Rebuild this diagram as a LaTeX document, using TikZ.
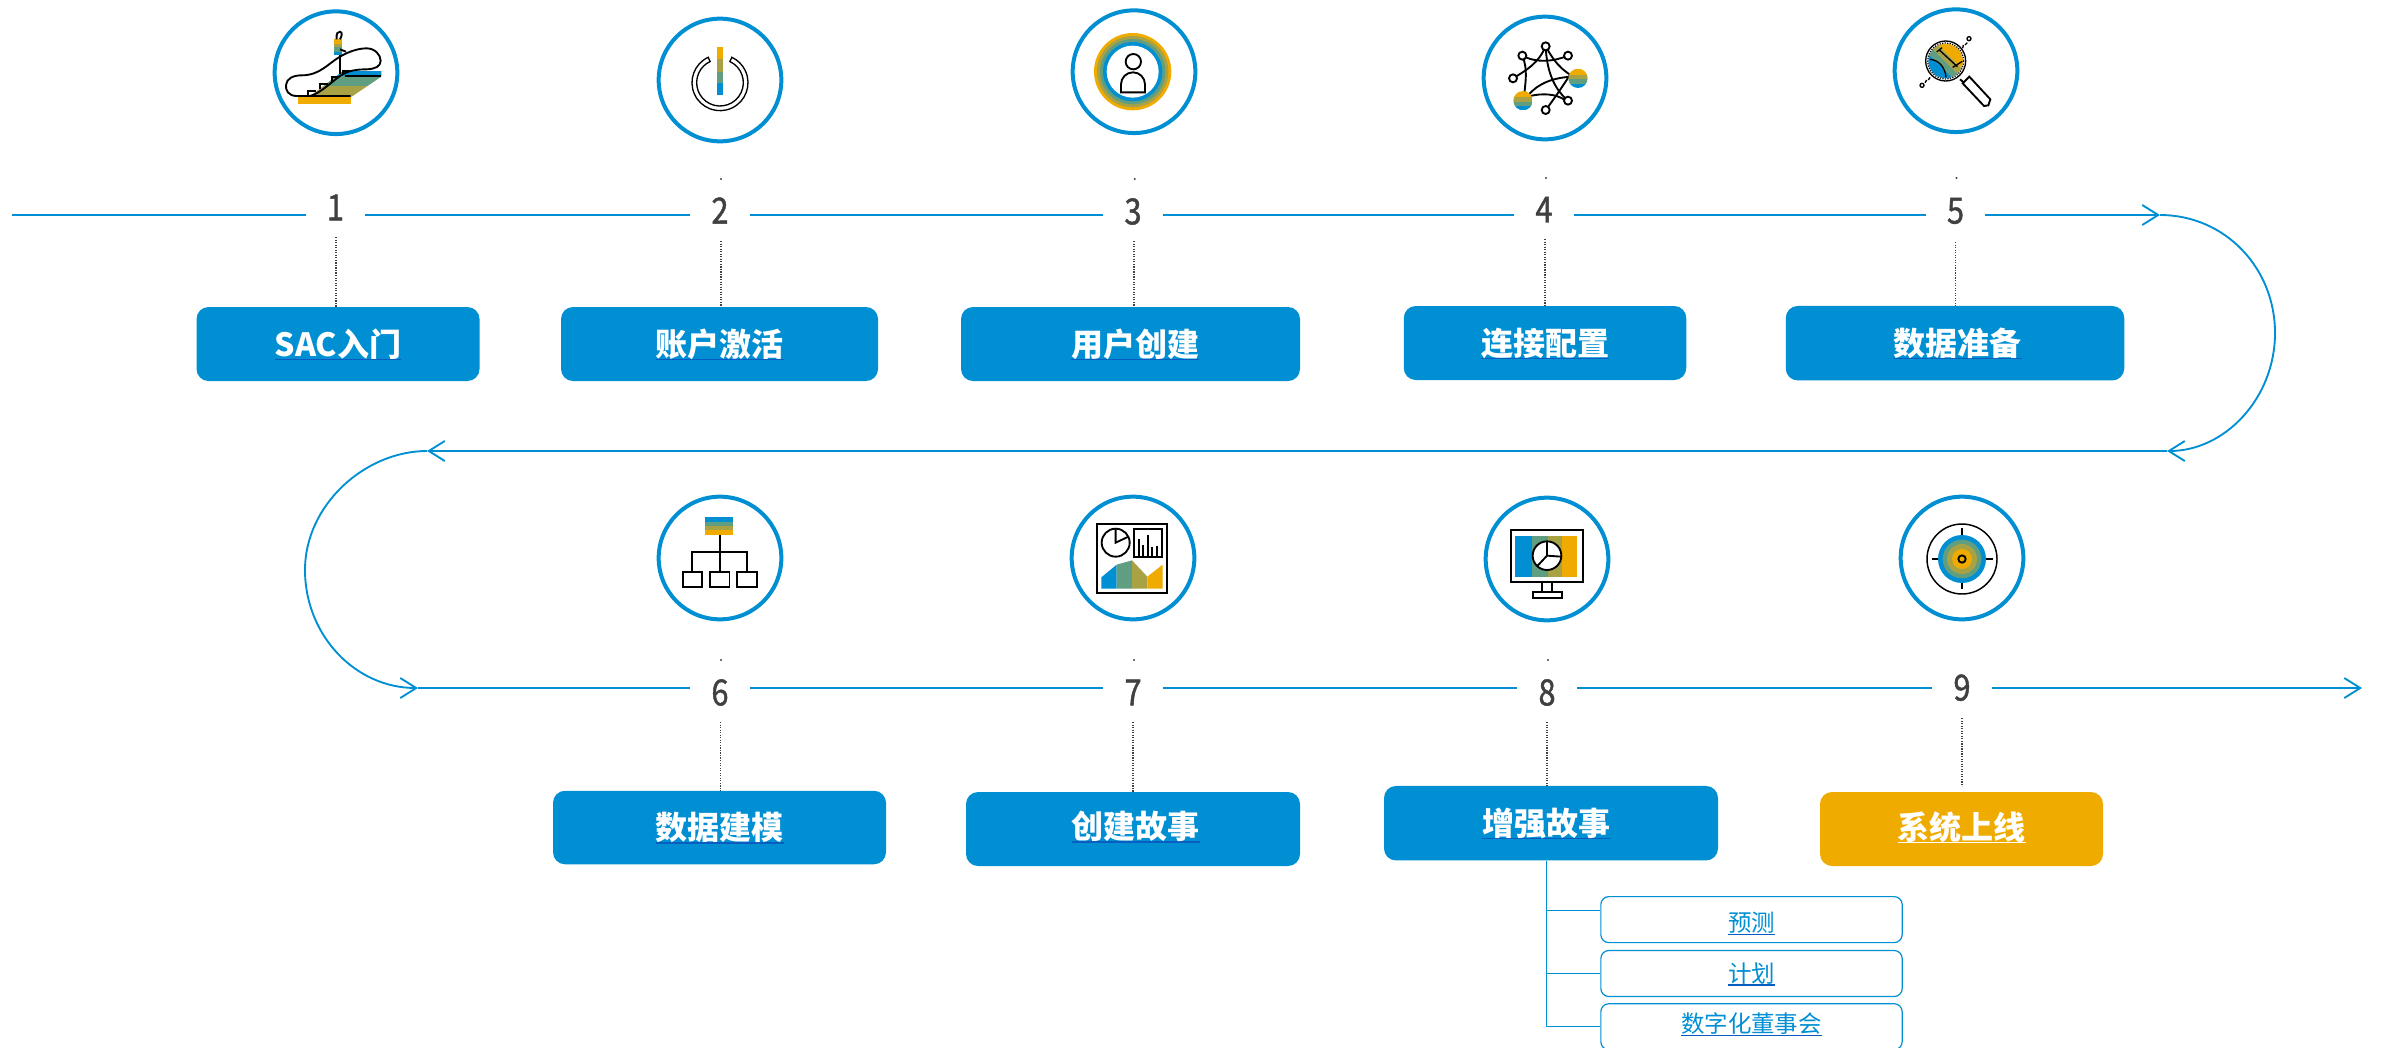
\documentclass[tikz,border=0pt]{standalone}
\usepackage{fontspec}
\setmainfont{Noto Sans CJK SC}
\newfontfamily\numfont[FakeStretch=0.85,FakeBold=1.2]{Noto Sans CJK SC}
\usetikzlibrary{arrows.meta}
\definecolor{sapblue}{HTML}{008FD3}
\definecolor{sapgreen}{HTML}{5F9E80}
\definecolor{sapolive}{HTML}{A8A245}
\definecolor{sapgold}{HTML}{F0AB00}
\definecolor{linkblue}{HTML}{0B5CC0}
\definecolor{numgrey}{HTML}{404040}
% text with an underline of its own colour
\newcommand{\linktext}[3][-9pt]{\raisebox{#1}{\setbox0=\hbox{#3}\rlap{\color{#2}\rule[-0.13em]{\wd0}{0.045em}}\box0}}
% ball with four colour bands
\newcommand{\stripeball}[3]{\begin{scope}
	\clip (#1,#2) circle (#3);
	\fill [sapgold] (#1-#3,#2-#3) rectangle (#1+#3,#2-0.35*#3);
	\fill [sapolive] (#1-#3,#2-0.35*#3) rectangle (#1+#3,#2+0.1*#3);
	\fill [sapgreen] (#1-#3,#2+0.1*#3) rectangle (#1+#3,#2+0.55*#3);
	\fill [sapblue] (#1-#3,#2+0.55*#3) rectangle (#1+#3,#2+#3);
\end{scope}}
\tikzset{
	ringnode/.style={circle,draw=sapblue,line width=3pt,minimum size=92pt,inner sep=0pt},
	numnode/.style={minimum width=44.5pt,inner sep=0pt,text height=12pt,text depth=12pt,text=numgrey,font=\numfont\fontsize{27}{27}\selectfont},
	stepbox/.style 2 args={rectangle,rounded corners=9pt,fill=sapblue,text=white,inner sep=0pt,text height=10pt,text depth=10pt,minimum width=#1*0.75pt,minimum height=#2*0.75pt,font=\bfseries\fontsize{24}{26}\selectfont},
	subbox/.style={rectangle,rounded corners=6pt,draw=sapblue,line width=0.9pt,fill=white,text=sapblue,inner sep=0pt,text height=10pt,text depth=10pt,minimum width=226pt,minimum height=34.5pt,font=\fontsize{17.6}{18}\selectfont},
	flowline/.style={draw=sapblue,line width=1.9pt},
	flowarrow/.style={flowline,-{Straight Barb[length=12pt,width=15pt,line width=1.4pt]}},
	arcline/.style={draw=sapblue,line width=1.4pt,-{Straight Barb[length=12pt,width=15pt,line width=1.4pt]}},
	dotline/.style={draw=numgrey,line width=0.9pt,densely dotted},
	treeline/.style={draw=sapblue,line width=1pt},
	iconline/.style={draw=black,line width=1.4pt},
}
\begin{document}
\begin{tikzpicture}[x=0.75pt,y=0.75pt,yscale=-1,xscale=1]
	\useasboundingbox (0,0) rectangle (2390,1047);
	% rings
	\node [ringnode] (ic1) at (336,72.7) {};
	\node [ringnode] (ic2) at (720,80) {};
	\node [ringnode] (ic3) at (1134,71.7) {};
	\node [ringnode] (ic4) at (1545,78) {};
	\node [ringnode] (ic5) at (1956,70.7) {};
	\node [ringnode] (ic6) at (720,558) {};
	\node [ringnode] (ic7) at (1133,558) {};
	\node [ringnode] (ic8) at (1547,559) {};
	\node [ringnode] (ic9) at (1962,558) {};
	% numbers
	\node [numnode] (num1) at (335.5,215) {\raisebox{-4pt}{1}};
	\node [numnode] (num2) at (720,215) {\raisebox{-6.4pt}{2}};
	\node [numnode] (num3) at (1133,215) {\raisebox{-7pt}{3}};
	\node [numnode] (num4) at (1544,215) {\raisebox{-5.6pt}{4}};
	\node [numnode] (num5) at (1955.5,215) {\raisebox{-6.4pt}{5}};
	\node [numnode] (num6) at (720,688) {\raisebox{-13pt}{6}};
	\node [numnode] (num7) at (1133,688) {\raisebox{-13pt}{7}};
	\node [numnode] (num8) at (1547,688) {\raisebox{-13pt}{8}};
	\node [numnode] (num9) at (1962,688) {\raisebox{-9.4pt}{9}};
	% step boxes
	\node [stepbox={283}{74}] (box1) at (338,344) {\linktext{linkblue}{SAC入门}};
	\node [stepbox={317}{74}] (box2) at (719.5,344) {\linktext{linkblue}{账户激活}};
	\node [stepbox={339}{74}] (box3) at (1130.5,344) {\hspace*{7pt}\linktext{linkblue}{用户创建}};
	\node [stepbox={282.5}{74}] (box4) at (1545,343) {\linktext{linkblue}{连接配置}};
	\node [stepbox={338.5}{74.5}] (box5) at (1955,343.2) {\hspace*{4pt}\linktext{linkblue}{数据准备}};
	\node [stepbox={333}{73.5}] (box6) at (719.5,827.5) {\linktext{linkblue}{数据建模}};
	\node [stepbox={334}{74}] (box7) at (1133,829) {\hspace*{4pt}\linktext[-7.3pt]{linkblue}{创建故事}};
	\node [stepbox={334}{74.5}] (box8) at (1551,823.2) {\linktext{linkblue}{增强故事}\hspace*{7pt}};
	\node [stepbox={283}{74},fill=sapgold] (box9) at (1961.5,829) {\linktext[-7.5pt]{white}{系统上线}};
	\node [subbox] (sub1) at (1751.5,919.6) {\linktext[-9.2pt]{linkblue}{预测}};
	\node [subbox] (sub2) at (1751.5,973.5) {\linktext[-6.7pt]{linkblue}{计划}};
	\node [subbox] (sub3) at (1751.5,1026.7) {\linktext[-4.4pt]{linkblue}{数字化董事会}};
	% flow lines
	\coordinate (start1) at (12,215);
	\coordinate (turnR) at (2160,215);
	\coordinate (midR) at (2167,451);
	\coordinate (midL) at (427,451);
	\coordinate (start2) at (418,688);
	\coordinate (end2) at (2362,688);
	\draw [flowline] (start1) -- (num1);
	\draw [flowline] (num1) -- (num2);
	\draw [flowline] (num2) -- (num3);
	\draw [flowline] (num3) -- (num4);
	\draw [flowline] (num4) -- (num5);
	\draw [flowarrow] (num5) -- (turnR);
	\draw [arcline] (turnR) .. controls (2225,215) and (2275,268) .. (2275,333) .. controls (2275,398) and (2225,451) .. (midR);
	\draw [flowarrow] (midR) -- (midL);
	\draw [arcline] (midL) .. controls (365,451) and (305,505) .. (305,570) .. controls (305,635) and (355,688) .. (start2);
	\draw [flowline] (start2) -- (num6);
	\draw [flowline] (num6) -- (num7);
	\draw [flowline] (num7) -- (num8);
	\draw [flowline] (num8) -- (num9);
	\draw [flowarrow] (num9) -- (end2);
	% dotted stems
	\coordinate (dt1) at (336,237);
	\coordinate (dt2) at (721,241);
	\coordinate (dt3) at (1134,241);
	\coordinate (dt4) at (1545,239);
	\coordinate (dt5) at (1955.6,242);
	\coordinate (dt6) at (720.5,722);
	\coordinate (dt7) at (1133,722);
	\coordinate (dt8) at (1547,722);
	\coordinate (dt9) at (1962,718);
	\draw [dotline] (dt1) -- (dt1 |- box1.north);
	\draw [dotline] (dt2) -- (dt2 |- box2.north);
	\draw [dotline] (dt3) -- (dt3 |- box3.north);
	\draw [dotline] (dt4) -- (dt4 |- box4.north);
	\draw [dotline] (dt5) -- (dt5 |- box5.north);
	\draw [dotline] (dt6) -- (dt6 |- box6.north);
	\draw [dotline] (dt7) -- (dt7 |- box7.north);
	\draw [dotline] (dt8) -- (dt8 |- box8.north);
	\draw [dotline] (dt9) -- ([yshift=-4pt]dt9 |- box9.north);
	\fill [numgrey] (721,179) circle (1.2) (1134.7,179) circle (1.2) (1546,178) circle (1.2) (1956.5,178) circle (1.2) (721,660) circle (1.2) (1134,660) circle (1.2) (1548,660) circle (1.2);
	% branch to the three small boxes
	\coordinate (trunk) at (1546.4,860.5);
	\draw [treeline] (trunk) |- ([yshift=-7pt]sub1.west);
	\draw [treeline] (trunk) |- (sub2.west);
	\draw [treeline] (trunk) |- (sub3.west);
	% escalator
	\begin{scope}[shift={(260,0)},scale=0.3333]
		\begin{scope}
			\clip (148,290) -- (250,212) -- (364,212) -- (364,230) -- (275,290) -- cycle;
			\fill [sapblue] (140,212) rectangle (370,228);
			\fill [sapgreen] (140,228) rectangle (370,258);
			\fill [sapolive] (140,258) rectangle (370,292);
		\end{scope}
		\fill [sapgold] (114,292) rectangle (272,312);
		\fill [sapgold] (222,118) rectangle (245,132);
		\fill [sapolive] (222,132) rectangle (245,142);
		\fill [sapgreen] (222,142) rectangle (245,155);
		\fill [sapblue] (222,155) rectangle (245,166);
		\draw [iconline] (272,288) -- (110,288) .. controls (85,288) and (76,270) .. (78,255) .. controls (80,235) and (100,226) .. (125,226) .. controls (180,226) and (205,190) .. (240,170) .. controls (265,155) and (295,145) .. (320,145) .. controls (345,145) and (362,165) .. (362,182) .. controls (362,200) and (345,207) .. (320,208) .. controls (290,208) and (262,212) .. (240,228) .. controls (210,250) and (180,280) .. (150,288);
		\draw [iconline] (255,228) -- (362,228);
		\draw [iconline] (145,285) |- (168,272) (180,268) |- (203,252) (215,245) |- (238,230) (250,225) |- (270,213);
		\draw [iconline] (240,165) -- (240,222) (240,148) -- (258,155);
		\draw [iconline] (230,118) .. controls (228,100) and (234,94) .. (240,95) .. controls (248,97) and (246,108) .. (240,118);
	\end{scope}
	% power button
	\begin{scope}[shift={(640,0)},scale=0.3333]
		\fill [sapgold] (231,141) rectangle (249,178);
		\fill [sapolive] (231,178) rectangle (249,215);
		\fill [sapgreen] (231,215) rectangle (249,250);
		\fill [sapblue] (231,250) rectangle (249,285);
		\draw [iconline,line width=1pt,fill=white] (240,248) ++(245:84) arc [start angle=245,end angle=-65,radius=84] -- ++(115:14) arc [start angle=-65,end angle=245,radius=70] -- cycle;
	\end{scope}
	% user in a ring
	\begin{scope}[shift={(1060,0)},scale=0.3333]
		\fill [sapgold] (218,215) circle (116);
		\fill [sapolive] (218,215) circle (107);
		\fill [sapgreen] (218,215) circle (98);
		\fill [sapblue] (218,215) circle (89);
		\fill [white] (218,215) circle (78);
		\draw [iconline] (220,185) circle (23);
		\draw [iconline] (183,277) -- (183,253) arc [start angle=180,end angle=360,radius=36] -- (255,277) -- cycle;
	\end{scope}
	% network
	\begin{scope}[shift={(1470,20)},scale=0.3333]
		\draw [iconline] (227,79) .. controls (205,130) and (170,150) .. (129,175);
		\draw [iconline] (157,107) .. controls (200,130) and (250,125) .. (294,107);
		\draw [iconline] (157,107) .. controls (175,150) and (165,190) .. (163,225);
		\draw [iconline] (227,79) .. controls (230,150) and (250,205) .. (294,242);
		\draw [iconline] (227,79) .. controls (250,120) and (270,150) .. (320,175);
		\draw [iconline] (227,270) .. controls (250,240) and (270,210) .. (300,165);
		\draw [iconline] (175,225) .. controls (205,190) and (250,172) .. (310,170);
		\draw [iconline] (180,228) .. controls (215,220) and (255,220) .. (285,240);
		\stripeball{324}{175}{29}
		\stripeball{159}{242}{29}
		\draw [iconline,fill=white] (227,79) circle (12) (157,107) circle (12) (294,107) circle (12) (129,175) circle (12) (227,270) circle (12) (294,242) circle (12);
	\end{scope}
	% magnifier
	\begin{scope}[shift={(1880,0)},scale=0.3333]
		\begin{scope}
			\clip (197,183) circle (52);
			\begin{scope}[shift={(197,183)},rotate=45]
				\fill [sapgold] (-70,-70) rectangle (70,-18);
				\fill [sapolive] (-70,-18) rectangle (70,2);
				\fill [sapgreen] (-70,2) rectangle (70,22);
				\fill [sapblue] (-70,22) rectangle (70,70);
			\end{scope}
		\end{scope}
		\draw [iconline,line width=1pt] (197,183) circle (60);
		\draw [iconline,line width=0.9pt,densely dotted] (197,183) circle (54);
		\draw [iconline,line width=1pt] (150,178) .. controls (175,180) and (195,200) .. (198,232);
		\draw [iconline,line width=1pt] (170,156) -- (186,143) (178,150) -- (232,200) (218,202) -- (247,184);
		\draw [iconline,fill=white] (248,250) -- (268,230) -- (331,298) -- (325,316) -- (312,318) -- cycle;
		\draw [iconline] (240,238) -- (252,248);
		\draw [iconline,line width=1pt] (126,256) circle (6) (145,240) -- (150,232) (267,116) circle (6) (250,135) -- (248,145) (262,128) -- (255,135) (135,248) -- (140,240);
	\end{scope}
	% org chart
	\begin{scope}[shift={(600,480)},xscale=0.4464,yscale=0.3333]
		\fill [sapblue] (236,112) rectangle (299,125);
		\fill [sapgreen] (236,125) rectangle (299,138);
		\fill [sapolive] (236,138) rectangle (299,150);
		\fill [sapgold] (236,150) rectangle (299,164);
		\draw [iconline] (268,164) -- (268,275) (206,275) |- (330,216) -- (330,275);
		\draw [iconline] (185,275) rectangle (228,322) (246,275) rectangle (290,322) (307,275) rectangle (352,322);
	\end{scope}
	% dashboard
	\begin{scope}[shift={(1060,490)},scale=0.3333]
		\draw [iconline] (112,103) rectangle (320,308);
		\draw [iconline] (167,158) circle (42);
		\draw [iconline] (167,116) -- (167,158) -- (205,140);
		\draw [iconline] (222,118) rectangle (306,200);
		\draw [iconline] (237,148) -- (237,198) (250,165) -- (250,198) (264,135) -- (264,198) (277,170) -- (277,198) (291,168) -- (291,198);
		\fill [sapblue] (124,296) -- (124,262) -- (170,224) -- (170,296) -- cycle;
		\fill [sapgreen] (170,296) -- (170,224) -- (216,211) -- (216,296) -- cycle;
		\fill [sapolive] (216,296) -- (216,211) -- (262,260) -- (262,296) -- cycle;
		\fill [sapgold] (262,296) -- (262,260) -- (308,224) -- (308,296) -- cycle;
	\end{scope}
	% monitor
	\begin{scope}[shift={(1480,490)},scale=0.3333]
		\fill [sapblue] (106,137) rectangle (156,260);
		\fill [sapgreen] (156,137) rectangle (203,260);
		\fill [sapolive] (203,137) rectangle (246,260);
		\fill [sapgold] (246,137) rectangle (292,260);
		\draw [iconline] (92,120) rectangle (310,277);
		\draw [iconline,fill=white] (201,197) circle (43);
		\draw [iconline] (201,154) -- (201,197) -- (244,200) (201,197) -- (172,228);
		\draw [iconline] (185,277) -- (185,305) (217,277) -- (217,305);
		\draw [iconline] (158,305) rectangle (245,323);
	\end{scope}
	% target
	\begin{scope}[shift={(1890,490)},scale=0.3333]
		\draw [iconline,line width=1.1pt] (216,207) circle (105);
		\draw [iconline] (216,115) -- (216,150) (216,265) -- (216,298) (125,207) -- (150,207) (285,207) -- (308,207);
		\fill [sapblue] (216,207) circle (72);
		\fill [sapgreen] (216,207) circle (58);
		\fill [sapolive] (216,207) circle (45);
		\fill [sapgold] (216,207) circle (30);
		\draw [iconline] (216,207) circle (11);
	\end{scope}
\end{tikzpicture}
\end{document}
